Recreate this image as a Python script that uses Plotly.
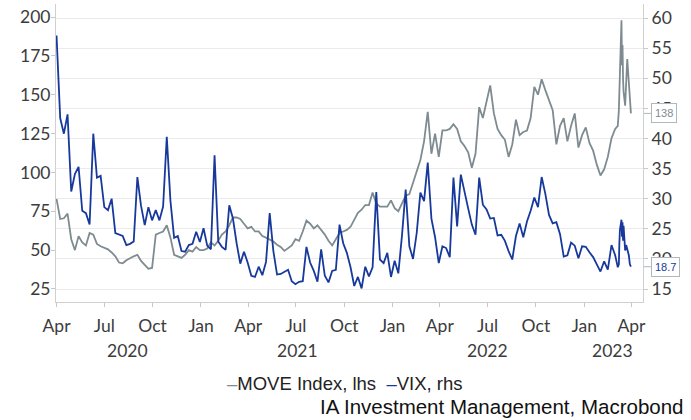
import pandas as pd
import plotly.graph_objs as go

# weekly readings (Wednesdays) from 2020-04-01 to 2023-03-01
weeks = pd.date_range("2020-04-01", "2023-03-01", freq="7D")

move_weekly = [
    83, 70, 70.5, 73.5, 57, 50, 59, 55, 53, 61,
    60, 54, 52.5, 51.5, 50.5, 48.5, 46, 42, 41.5, 43.5,
    45, 46, 47, 43, 40.5, 38, 38.5, 60, 61, 62,
    66, 58, 47, 46, 45, 47, 50, 49, 52, 50,
    50, 51, 55, 53, 56, 60, 62, 66, 71, 71,
    70, 67, 64, 65, 62, 62, 59, 58, 57, 55.5,
    53.5, 52, 49.5, 51, 53, 57, 56, 62, 69, 67,
    64, 66, 63, 60, 56, 53, 57, 61, 62, 63,
    65, 70, 74, 76, 79, 79, 87, 80, 78, 78,
    78, 82, 77, 75, 80, 85, 86, 93, 100, 108,
    120, 139, 112, 125, 110, 127, 127, 128, 131, 128,
    120, 117, 113, 103, 112, 142, 135, 145, 156, 138,
    128, 124, 121, 110, 118, 134, 124, 126, 127, 135,
    155, 150, 160, 153, 147, 140, 118, 130, 135, 120,
    130, 138, 116, 124, 129, 119, 114, 105, 98, 102,
    110, 122, 128,
]

vix_weekly = [
    57.1, 43.4, 40.8, 44.0, 31.2, 34.1, 35.3, 28.0, 27.6, 25.7,
    40.8, 33.5, 33.8, 28.6, 28.1, 30.0, 24.3, 24.1, 23.8, 22.3,
    22.5, 22.9, 33.6, 28.8, 25.6, 28.6, 26.4, 28.1, 26.4, 28.7,
    40.3, 29.6, 23.5, 23.8, 21.3, 21.2, 22.3, 22.5, 24.5, 22.8,
    25.1, 22.2, 21.6, 37.2, 22.9, 22.0, 21.5, 28.9, 26.7, 22.6,
    19.2, 21.2, 19.4, 17.2, 17.0, 18.7, 17.3, 19.5, 27.6, 21.3,
    17.4, 17.5, 17.9, 18.2, 16.3, 15.8, 16.2, 16.3, 22.0, 19.4,
    18.0, 16.2, 21.6, 17.2, 16.1, 18.0, 18.2, 25.7, 22.6, 21.0,
    18.6, 15.5, 17.0, 15.1, 18.7, 17.1, 18.6, 31.1, 19.9, 19.3,
    21.0, 17.0, 19.7, 17.6, 23.9, 31.5, 22.1, 20.0, 24.3, 31.0,
    29.6, 36.0, 26.7, 23.6, 19.3, 22.1, 21.8, 20.3, 33.5, 25.4,
    34.0, 31.0, 28.4, 25.7, 24.0, 33.5, 29.0, 28.2, 26.7, 26.8,
    23.9, 24.0, 23.0, 21.3, 19.9, 23.8, 25.9, 23.6, 26.2, 28.0,
    30.2, 28.6, 33.6, 30.8, 27.3, 25.9, 26.1, 24.1, 20.4, 20.6,
    22.7, 22.2, 20.1, 22.1, 22.0, 21.1, 20.3, 19.1, 17.9, 19.6,
    18.2, 22.3, 20.6,
]

# March 2023, read day by day
march_days = ["2023-03-06", "2023-03-08", "2023-03-09", "2023-03-10", "2023-03-13",
              "2023-03-14", "2023-03-15", "2023-03-16", "2023-03-17", "2023-03-20",
              "2023-03-22", "2023-03-24", "2023-03-27", "2023-03-29", "2023-03-31"]
move_march = [130, 140, 155, 170, 198, 169, 182, 160, 152, 143, 165, 173, 158, 145, 138]
vix_march = [18.6, 19.1, 22.6, 24.8, 26.5, 23.7, 26.1, 23.0, 25.5, 21.4, 22.3, 21.7, 20.6, 19.1, 18.7]

dates = list(weeks) + list(pd.to_datetime(march_days))
move = move_weekly + move_march
vix = vix_weekly + vix_march

quarter_ticks = pd.date_range("2020-04-01", "2023-04-01", freq="QS")
month_labels = [d.strftime("%b") for d in quarter_ticks]
year_labels = ["2020", "2021", "2022", "2023"]
year_pos = ["2020-08-15", "2021-07-03", "2022-07-01", "2023-02-24"]

GREY = "#7e8b91"
BLUE = "#17399b"
TICK_FONT = dict(family="Lato, Open Sans, sans-serif", size=17.5, color="#3c3c3c")

fig = go.Figure()
fig.add_trace(go.Scatter(x=dates, y=move, mode="lines", name="MOVE Index, lhs",
                         line=dict(color=GREY, width=1.8), yaxis="y"))
fig.add_trace(go.Scatter(x=dates, y=vix, mode="lines", name="VIX, rhs",
                         line=dict(color=BLUE, width=1.8), yaxis="y2"))

fig.update_layout(
    width=691, height=420,
    margin=dict(l=56, r=48, t=4, b=118),
    plot_bgcolor="white", paper_bgcolor="white",
    showlegend=False,
    xaxis=dict(
        range=["2020-03-31", "2023-04-23"],
        tickvals=quarter_ticks, ticktext=month_labels,
        ticks="outside", ticklen=4, tickcolor="#c8c8c8",
        showline=True, linecolor="#d0d0d0", showgrid=False,
        tickfont=TICK_FONT, ticklabelstandoff=4,
    ),
    yaxis=dict(
        range=[16.6, 208.4],
        tickvals=[25, 50, 75, 100, 125, 150, 175, 200],
        ticks="outside", ticklen=4, tickcolor="#c8c8c8",
        showline=True, linecolor="#d0d0d0", showgrid=False, zeroline=False,
        tickfont=TICK_FONT, ticklabelstandoff=-3,
    ),
    yaxis2=dict(
        range=[12.84, 62.34], overlaying="y", side="right",
        tickvals=[15, 20, 25, 30, 35, 40, 45, 50, 55, 60],
        ticks="outside", ticklen=4, tickcolor="#c8c8c8",
        showline=True, linecolor="#d0d0d0",
        showgrid=True, gridcolor="#ebebeb", gridwidth=1, zeroline=False,
        tickfont=TICK_FONT,
    ),
)

for label, pos in zip(year_labels, year_pos):
    fig.add_annotation(x=pos, y=-0.164, xref="x", yref="paper", yanchor="middle",
                       text=label, showarrow=False, font=TICK_FONT)

# last value callouts
fig.add_annotation(x=dates[-1], y=move[-1], xref="x", yref="y", text=f"{move[-1]:.0f}",
                   showarrow=True, arrowhead=0, arrowcolor="#b0b8bc", arrowwidth=1,
                   ax=33, ay=0, standoff=13,
                   bgcolor="white", bordercolor="#b0b8bc", borderwidth=1, borderpad=3,
                   font=dict(family="Liberation Sans, Arial", size=11, color=GREY))
fig.add_annotation(x=dates[-1], y=vix[-1], xref="x", yref="y2", text=f"{vix[-1]:.1f}",
                   showarrow=True, arrowhead=0, arrowcolor="#b0b8bc", arrowwidth=1,
                   ax=35, ay=0, standoff=13,
                   bgcolor="white", bordercolor="#b0b8bc", borderwidth=1, borderpad=3,
                   font=dict(family="Liberation Sans, Arial", size=11, color=BLUE))

# legend drawn as text so the line keys stay short
legend_text = (f"<span style='color:{GREY}'>–</span>MOVE Index, lhs  "
               f"<span style='color:{BLUE}'>–</span>VIX, rhs")
fig.add_annotation(x=0.493, y=-0.272, xref="paper", yref="paper", yanchor="middle",
                   text=legend_text, showarrow=False,
                   font=dict(family="Liberation Sans, Arial", size=18.5, color="#222222"))
fig.add_annotation(x=1.074, y=-0.352, xref="paper", yref="paper", xanchor="right", yanchor="middle",
                   text="IA Investment Management, Macrobond", showarrow=False,
                   font=dict(family="Liberation Sans, Arial", size=20.5, color="#111111"))

# page body has a default 8px margin; drop it so the figure sits at the window corner
fig.write_html("out.html", config={"displayModeBar": False},
               post_script="document.body.style.margin='0px';")
